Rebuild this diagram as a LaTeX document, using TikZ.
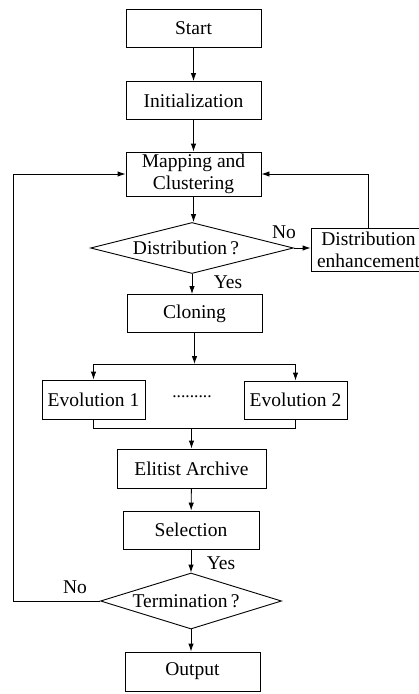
\documentclass[tikz,border=0pt]{standalone}
\usepackage{fontspec}
\setmainfont{Liberation Serif}
\usetikzlibrary{shapes.geometric,arrows.meta}
\begin{document}
\begin{tikzpicture}[x=1pt,y=-1pt,
  txt/.style={font=\fontsize{19.5}{22}\selectfont},
  box/.style={draw, line width=0.9pt, minimum width=135pt, minimum height=38pt, inner sep=0pt, align=center, txt},
  dia/.style={draw, diamond, line width=0.9pt, inner sep=0pt, txt},
  arr/.style={line width=0.9pt, -{Latex[length=8pt,width=5.5pt]}},
  ln/.style={line width=0.9pt}]
\useasboundingbox (0,0) rectangle (419,694);
\node[box] (start) at (193.5,28) {Start};
\node[box] (init) at (193.5,100.5) {Initialization};
\node[box, minimum height=44pt] (map) at (193.5,174) {Mapping and\\Clustering};
\node[dia, shape aspect=4, minimum width=203pt, minimum height=51pt] (dist) at (192,248) {Distribution\,?\hspace*{12pt}};
\node[box, minimum width=115pt, minimum height=43pt] (enh) at (368.5,249.5) {Distribution\\enhancement};
\node[box] (clone) at (194.5,313.5) {Cloning};
\node[box, minimum width=103pt, minimum height=39pt] (ev1) at (93.5,399.5) {Evolution 1};
\node[box, minimum width=103pt, minimum height=38pt] (ev2) at (295.5,400) {Evolution 2};
\node[font=\fontsize{17.5}{20}\selectfont, inner sep=0pt, anchor=base] (dots) at (192,397) {.........};
\node[box, minimum width=149pt, minimum height=39pt] (elite) at (191.5,468.5) {Elitist Archive};
\node[box, minimum width=136pt, minimum height=38pt] (sel) at (191,530) {Selection};
\node[dia, shape aspect=3.2, minimum width=181pt, minimum height=56pt] (term) at (191,601) {Termination\,?\hspace*{10pt}};
\node[box, minimum height=39pt] (out) at (192.5,671.5) {Output};
% labels
\node[txt, inner sep=0pt] (no1) at (284,232) {No};
\node[txt, inner sep=0pt] (yes1) at (228,282) {Yes};
\node[txt, inner sep=0pt] (yes2) at (221,563) {Yes};
\node[txt, inner sep=0pt] (no2) at (75,587) {No};
% coordinates
\coordinate (split) at (194.5,364);
\coordinate (merge) at (192,428);
\coordinate (lx) at (13,0);
% connectors
\draw[arr] (start) -- (init);
\draw[arr] (init) -- (map);
\draw[arr] (map.south) -- (map.south |- dist.north);
\draw[arr] (dist.east) -- (dist.east -| enh.west);
\draw[arr] (enh.north) |- (map.east);
\draw[arr] (dist.south) -- (dist.south |- clone.north);
\draw[arr] (clone.south) -- (clone.south |- split);
\draw[ln] (ev1.north |- split) -- (ev2.north |- split);
\draw[arr] (ev1.north |- split) -- (ev1.north);
\draw[arr] (ev2.north |- split) -- (ev2.north);
\draw[ln] (ev1.south) -- (ev1.south |- merge) -- (ev2.south |- merge) -- (ev2.south);
\draw[arr] (elite.north |- merge) -- (elite.north);
\draw[arr] (elite) -- (sel);
\draw[arr] (sel.south) -- (sel.south |- term.north);
\draw[arr] (term.south) -- (term.south |- out.north);
\draw[arr] (term.west) -- (term.west -| lx) |- (map.west);
\end{tikzpicture}
\end{document}
